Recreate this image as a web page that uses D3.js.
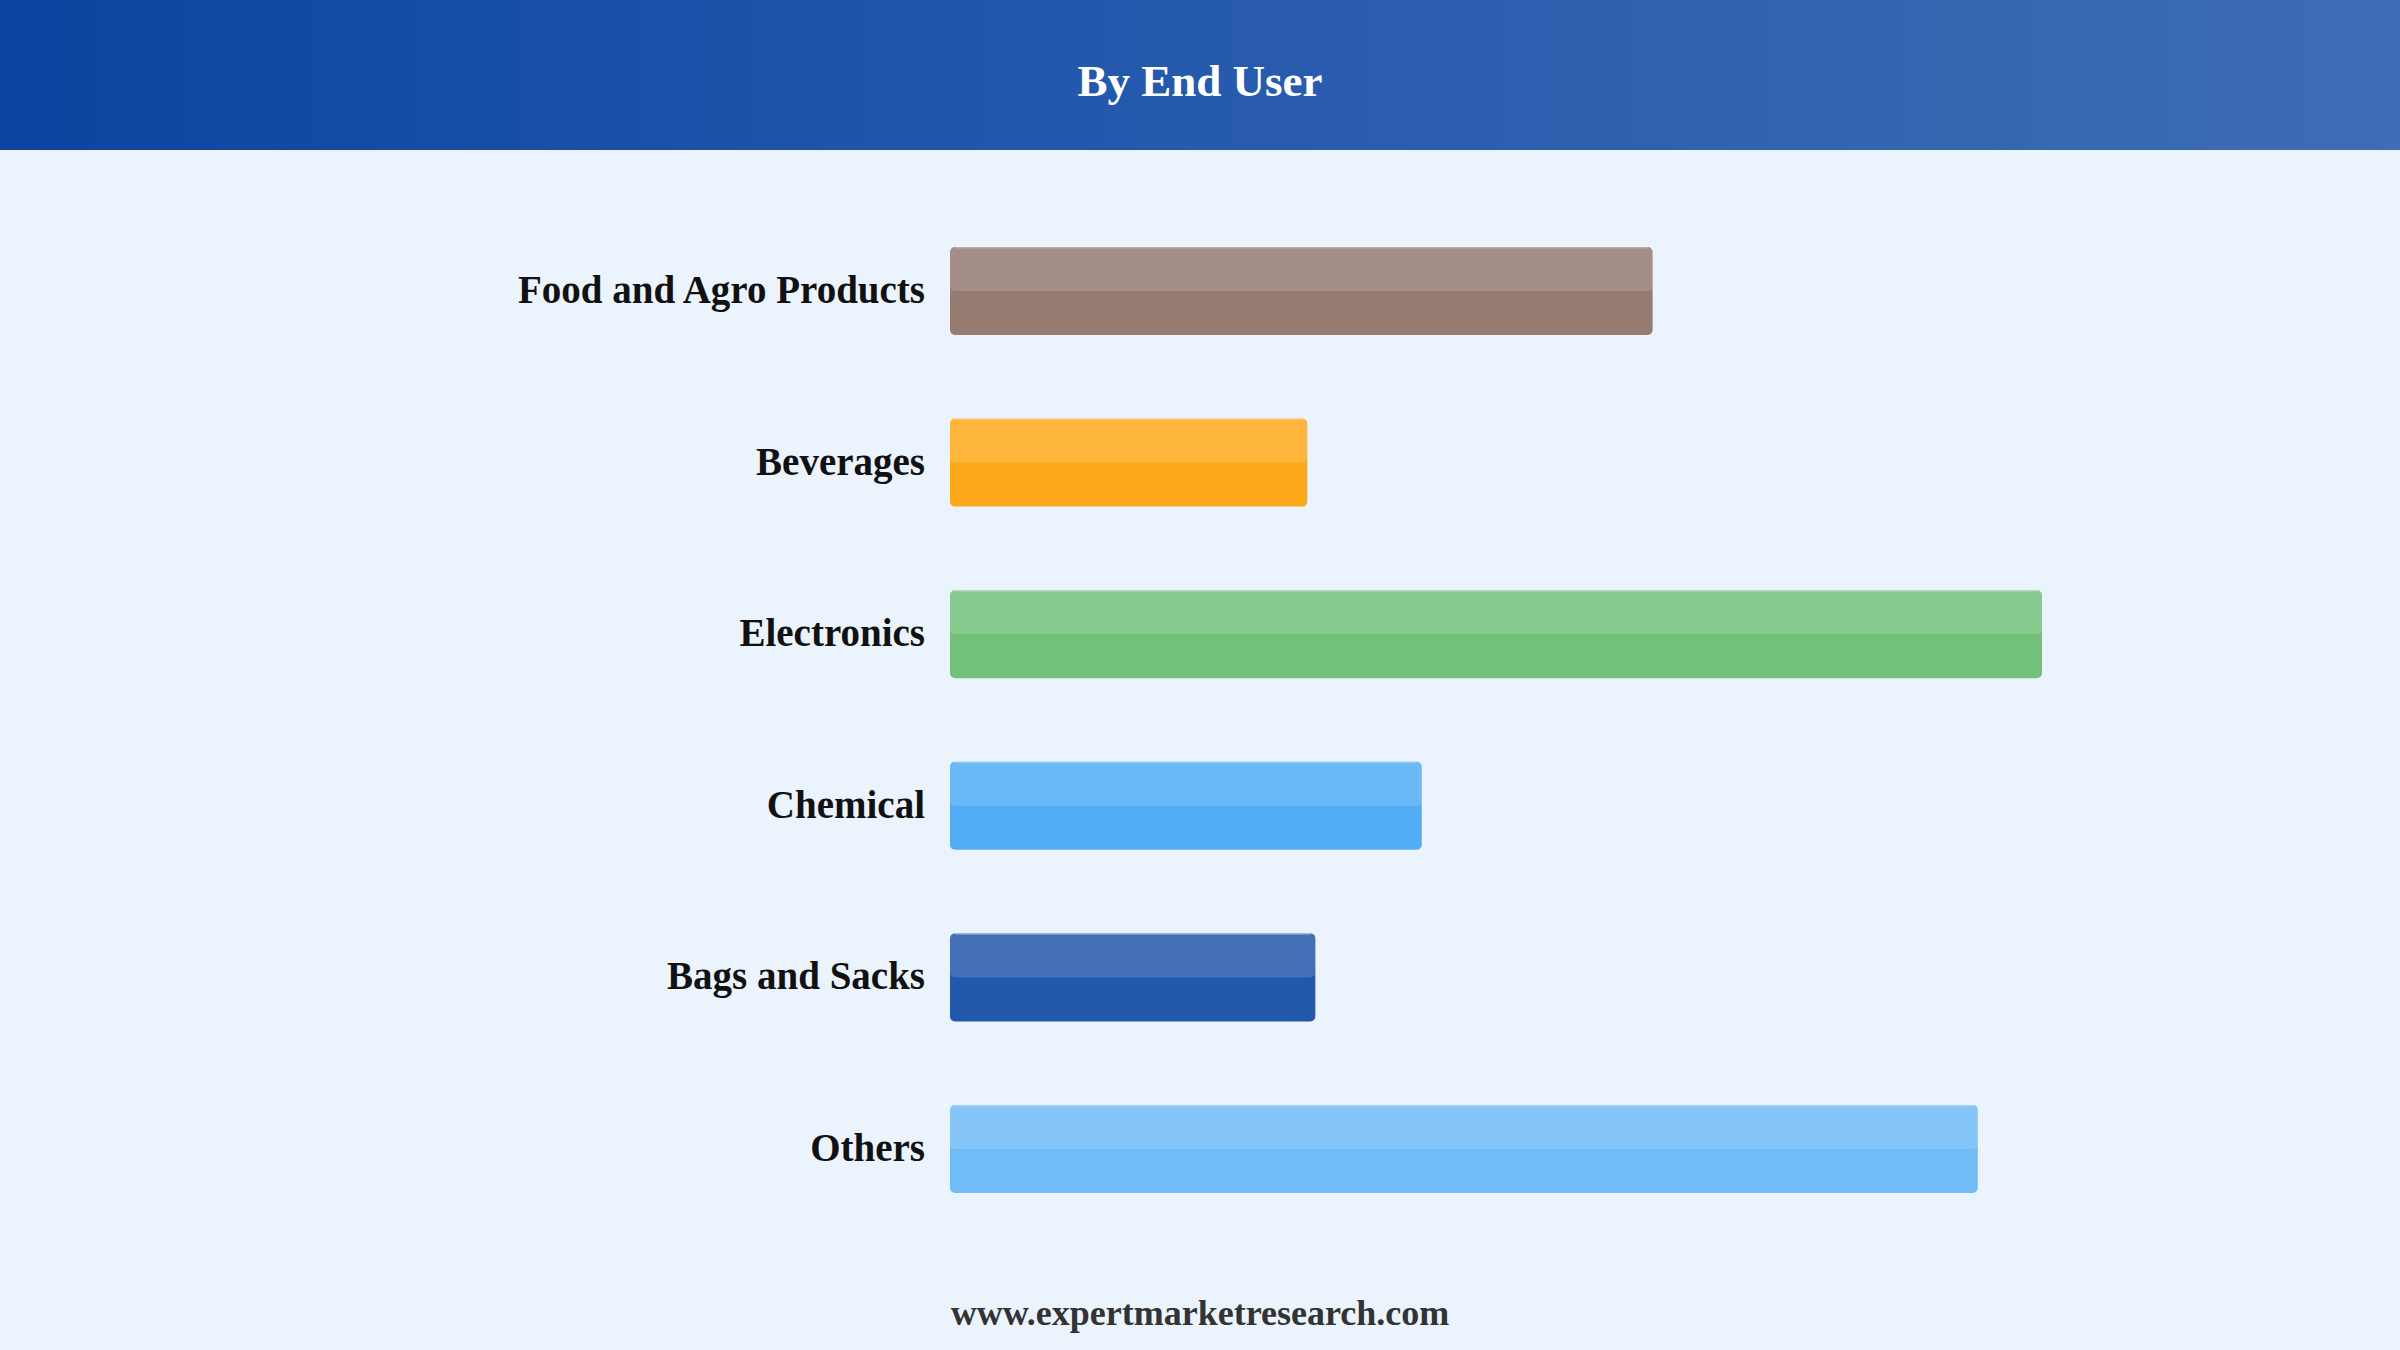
<!DOCTYPE html>
<html>
<head>
<meta charset="utf-8">
<script src="https://cdn.jsdelivr.net/npm/d3@7"></script>
<style>
  html, body { margin: 0; padding: 0; background: #ebf3fc; }
  svg { display: block; }
</style>
</head>
<body>
<div id="chart"></div>
<script>
// ── DATA ─────────────────────────────────────────────────────────────────────
const categories = ['Food and Agro Products', 'Beverages', 'Electronics', 'Chemical', 'Bags and Sacks', 'Others'];
const shares     = [17.5, 8.9, 27.2, 11.75, 9.1, 25.6];
const barColors  = ['#8d6e63', '#ffa000', '#66bb6a', '#42a5f5', '#0d47a1', '#64b5f6'];

const TITLE  = 'By End User';
const SOURCE = 'www.expertmarketresearch.com';

// ── DIMENSIONS ───────────────────────────────────────────────────────────────
const W = 2400, H = 1350;
const HEADER_H = 150;
const FONT = '"Times New Roman", "Liberation Serif", serif';

const svg = d3.select('#chart')
  .append('svg')
    .attr('width', W)
    .attr('height', H);

// ── BACKGROUND + HEADER ──────────────────────────────────────────────────────
svg.append('rect')
  .attr('width', W).attr('height', H)
  .attr('fill', '#ebf3fc');

const defs = svg.append('defs');
const grad = defs.append('linearGradient')
  .attr('id', 'header-grad')
  .attr('x1', '0%').attr('x2', '100%')
  .attr('y1', '0%').attr('y2', '0%');
grad.append('stop').attr('offset', '0%').attr('stop-color', '#0b44a0');
grad.append('stop').attr('offset', '45%').attr('stop-color', '#2458ac');
grad.append('stop').attr('offset', '100%').attr('stop-color', '#3d6db5');

svg.append('rect')
  .attr('width', W).attr('height', HEADER_H)
  .attr('fill', 'url(#header-grad)');

svg.append('text')
  .attr('x', W / 2)
  .attr('y', 96)
  .attr('text-anchor', 'middle')
  .attr('font-family', FONT)
  .attr('font-weight', 'bold')
  .attr('font-size', '45px')
  .attr('fill', '#ffffff')
  .text(TITLE);

// ── SCALES ───────────────────────────────────────────────────────────────────
const x = d3.scaleLinear()
  .domain([0, d3.max(shares)])
  .range([950, 2042]);

const y = d3.scaleBand()
  .domain(categories)
  .range([247, 1193])
  .paddingInner(0.487)
  .paddingOuter(0);

const rows = categories.map((c, i) => ({ name: c, value: shares[i], color: barColors[i] }));

// ── BARS ─────────────────────────────────────────────────────────────────────
const g = svg.append('g');

const bar = g.selectAll('.bar')
  .data(rows)
  .join('g')
    .attr('class', 'bar');

bar.append('rect')
  .attr('x', x(0))
  .attr('y', d => y(d.name))
  .attr('width', d => x(d.value) - x(0))
  .attr('height', y.bandwidth())
  .attr('rx', 5)
  .attr('fill', d => d.color)
  .attr('fill-opacity', 0.9);

// lighter top half
bar.append('rect')
  .attr('x', x(0))
  .attr('y', d => y(d.name))
  .attr('width', d => x(d.value) - x(0))
  .attr('height', y.bandwidth() / 2)
  .attr('rx', 5)
  .attr('fill', '#ffffff')
  .attr('fill-opacity', 0.15);

// thin highlight at the very top
bar.append('line')
  .attr('x1', x(0) + 5)
  .attr('x2', d => x(d.value) - 5)
  .attr('y1', d => y(d.name) + 0.75)
  .attr('y2', d => y(d.name) + 0.75)
  .attr('stroke', '#ffffff')
  .attr('stroke-opacity', 0.25)
  .attr('stroke-width', 1.5);

// ── LABELS ───────────────────────────────────────────────────────────────────
g.selectAll('.cat-label')
  .data(rows)
  .join('text')
    .attr('class', 'cat-label')
    .attr('x', x(0) - 25)
    .attr('y', d => y(d.name) + y.bandwidth() / 2 + 12)
    .attr('text-anchor', 'end')
    .attr('font-family', FONT)
    .attr('font-weight', 'bold')
    .attr('font-size', '39px')
    .attr('fill', '#111111')
    .text(d => d.name);

// ── FOOTER ───────────────────────────────────────────────────────────────────
svg.append('text')
  .attr('x', W / 2)
  .attr('y', 1325)
  .attr('text-anchor', 'middle')
  .attr('font-family', FONT)
  .attr('font-weight', 'bold')
  .attr('font-size', '36px')
  .attr('fill', '#333333')
  .text(SOURCE);
</script>
</body>
</html>
